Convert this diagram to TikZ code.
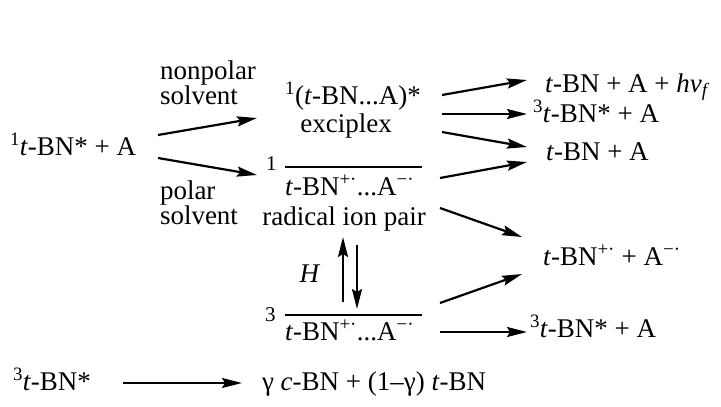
\documentclass[tikz,border=0pt]{standalone}
\usepackage{fontspec}
\setmainfont{Liberation Serif}
\usetikzlibrary{arrows.meta}
\newcommand{\tbn}{\textit{t}-BN}
\newcommand{\cat}{\textsuperscript{+·}}
\newcommand{\ani}{\textsuperscript{−·}}
\begin{document}
\begin{tikzpicture}[x=1pt,y=-1pt,
  lbl/.style={inner sep=0pt, outer sep=0pt, font=\fontsize{27}{32}\selectfont, anchor=base west},
  lblc/.style={lbl, anchor=base},
  spin/.style={lbl, font=\fontsize{21}{24}\selectfont},
  arr/.style={line width=2.2pt, -{Stealth[length=20pt,width=10pt,inset=3pt]}},
  bar/.style={line width=1.6pt}]
\useasboundingbox (0,0) rectangle (721,407);
% reactant
\node[lbl] (reac) at (10,155) {\textsuperscript{1}\tbn* + A};
\node[lbl] (np) at (160,79) {nonpolar};
\node[lbl] (nps) at (160,104) {solvent};
\node[lbl] (pl) at (160,199) {polar};
\node[lbl] (pls) at (160,224) {solvent};
% exciplex
\node[lblc] (ex) at (353,104) {\textsuperscript{1}(\tbn...A)*};
\node[lblc] (exl) at (346,132) {exciplex};
% singlet radical ion pair
\node[spin] (s1) at (266,170) {1};
\coordinate (b1a) at (285,167); \coordinate (b1b) at (422,167);
\draw[bar] (b1a) -- (b1b);
\node[lbl] (rip1) at (285,195) {\tbn\cat...A\ani};
\node[lblc] (ripl) at (344,225) {radical ion pair};
% H
\node[lblc] (H) at (310,282) {\textit{H}};
\coordinate (u1) at (343,302); \coordinate (u2) at (343,237);
\coordinate (d1) at (357,245); \coordinate (d2) at (357,309);
\draw[arr] (u1) -- (u2);
\draw[arr] (d1) -- (d2);
% triplet radical ion pair
\node[spin] (s3) at (265,321) {3};
\coordinate (b3a) at (285,315); \coordinate (b3b) at (422,315);
\draw[bar] (b3a) -- (b3b);
\node[lbl] (rip3) at (285,340) {\tbn\cat...A\ani};
% products
\node[lbl] (p1) at (545,92) {\tbn{} + A + \textit{hν}\textsubscript{\textit{f}}};
\node[lbl] (p2) at (533,122) {\textsuperscript{3}\tbn* + A};
\node[lbl] (p3) at (546,160) {\tbn{} + A};
\node[lbl] (p4) at (543,265) {\tbn\cat{} + A\ani};
\node[lbl] (p5) at (530,337) {\textsuperscript{3}\tbn* + A};
% arrows
\coordinate (a1s) at (158,135); \coordinate (a1e) at (257,118);
\coordinate (a2s) at (158,158); \coordinate (a2e) at (257,175);
\draw[arr] (a1s) -- (a1e);
\draw[arr] (a2s) -- (a2e);
\coordinate (c1s) at (442,95);  \coordinate (c1e) at (527,80);
\coordinate (c2s) at (442,114); \coordinate (c2e) at (527,114);
\coordinate (c3s) at (442,132); \coordinate (c3e) at (527,147);
\coordinate (c4s) at (440,178); \coordinate (c4e) at (527,162);
\coordinate (c5s) at (440,208); \coordinate (c5e) at (522,237);
\coordinate (c6s) at (440,303); \coordinate (c6e) at (522,274);
\coordinate (c7s) at (440,332); \coordinate (c7e) at (527,332);
\foreach \i in {1,...,7} {\draw[arr] (c\i s) -- (c\i e);}
% bottom
\node[lbl] (t3) at (13,390) {\textsuperscript{3}\tbn*};
\coordinate (bs) at (123,383); \coordinate (be) at (242,383);
\draw[arr] (bs) -- (be);
\node[lbl] (iso) at (262,390) {γ \textit{c}-BN + (1–γ) \tbn};
\end{tikzpicture}
\end{document}
